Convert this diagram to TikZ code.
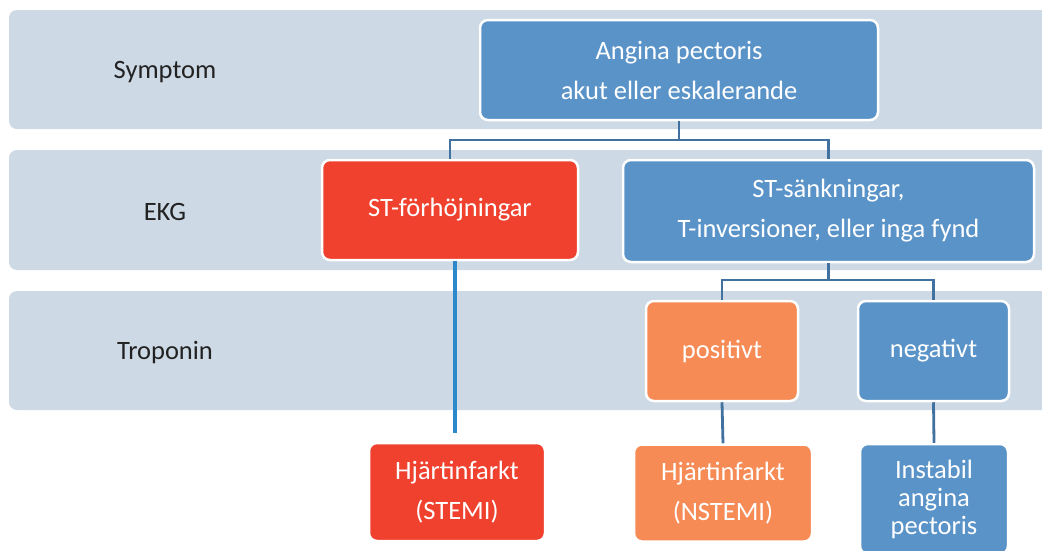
\documentclass[tikz,border=0pt]{standalone}
\usepackage{fontspec}
\setmainfont{Carlito}
\definecolor{bandgray}{RGB}{205,217,229}
\definecolor{boxblue}{RGB}{90,147,200}
\definecolor{boxred}{RGB}{239,65,46}
\definecolor{boxorange}{RGB}{246,139,86}
\definecolor{linkblue}{RGB}{65,114,159}
\definecolor{stemiblue}{RGB}{42,136,203}
\definecolor{labelgray}{RGB}{34,34,34}

\begin{document}
\begin{tikzpicture}[x=1pt, y=-1pt,
  box/.style={draw=white, line width=2.5pt, rounded corners=8pt, text=white, align=center,
    inner sep=0pt, font=\fontsize{26.5}{40}\selectfont},
  rowlabel/.style={text=labelgray, font=\fontsize{26.5}{30}\selectfont},
  link/.style={draw=linkblue, line width=2.8pt}]
  \useasboundingbox (0,0) rectangle (1042,550);
  \fill[bandgray, rounded corners=8pt] (9,10) rectangle (1070,129);
  \fill[bandgray, rounded corners=8pt] (9,150) rectangle (1070,270);
  \fill[bandgray, rounded corners=8pt] (9,291) rectangle (1070,410);
  \node[rowlabel] (symptom) at (165,72) {Symptom};
  \node[rowlabel] (ekg) at (165,212) {EKG};
  \node[rowlabel] (troponin) at (165,353) {Troponin};

  \coordinate (j1) at (679,140);
  \coordinate (j2) at (828.5,280);
  \node[box, fill=boxblue, minimum width=398pt, minimum height=100pt] (angina) at (679,70) {Angina pectoris\\akut eller eskalerande};
  \node[box, fill=boxred, minimum width=256pt, minimum height=100pt] (sthigh) at (450,210) {ST-förhöjningar};
  \node[box, fill=boxblue, minimum width=411pt, minimum height=102pt] (stlow) at (828.5,211) {ST-sänkningar,\\T-inversioner, eller inga fynd};
  \node[box, fill=boxorange, minimum width=152pt, minimum height=100pt] (pos) at (722,351) {positivt};
  \node[box, fill=boxblue, minimum width=151pt, minimum height=100pt] (neg) at (933.5,351) {negativt};
  \node[box, fill=boxred, minimum width=176pt, minimum height=98pt] (stemi) at (457,492) {Hjärtinfarkt\\(STEMI)};
  \node[box, fill=boxorange, minimum width=178pt, minimum height=97pt] (nstemi) at (723,493) {Hjärtinfarkt\\(NSTEMI)};
  \node[box, fill=boxblue, minimum width=148pt, minimum height=110pt, font=\fontsize{26.5}{28}\selectfont] (unstable) at (934,499) {Instabil\\angina\\pectoris};
  \coordinate (stemiend) at (455,433);

  \draw[link] (angina.south) -- (j1);
  \draw[link] (sthigh.north) |- (j1) -| (stlow.north);
  \draw[link] (stlow.south) -- (j2);
  \draw[link] (pos.north) |- (j2) -| (neg.north);
  \draw[link] (pos.south) -- (nstemi.north);
  \draw[link] (neg.south) -- (unstable.north);
  \draw[stemiblue, line width=4pt] (sthigh.south -| stemiend) -- (stemiend);
\end{tikzpicture}
\end{document}
